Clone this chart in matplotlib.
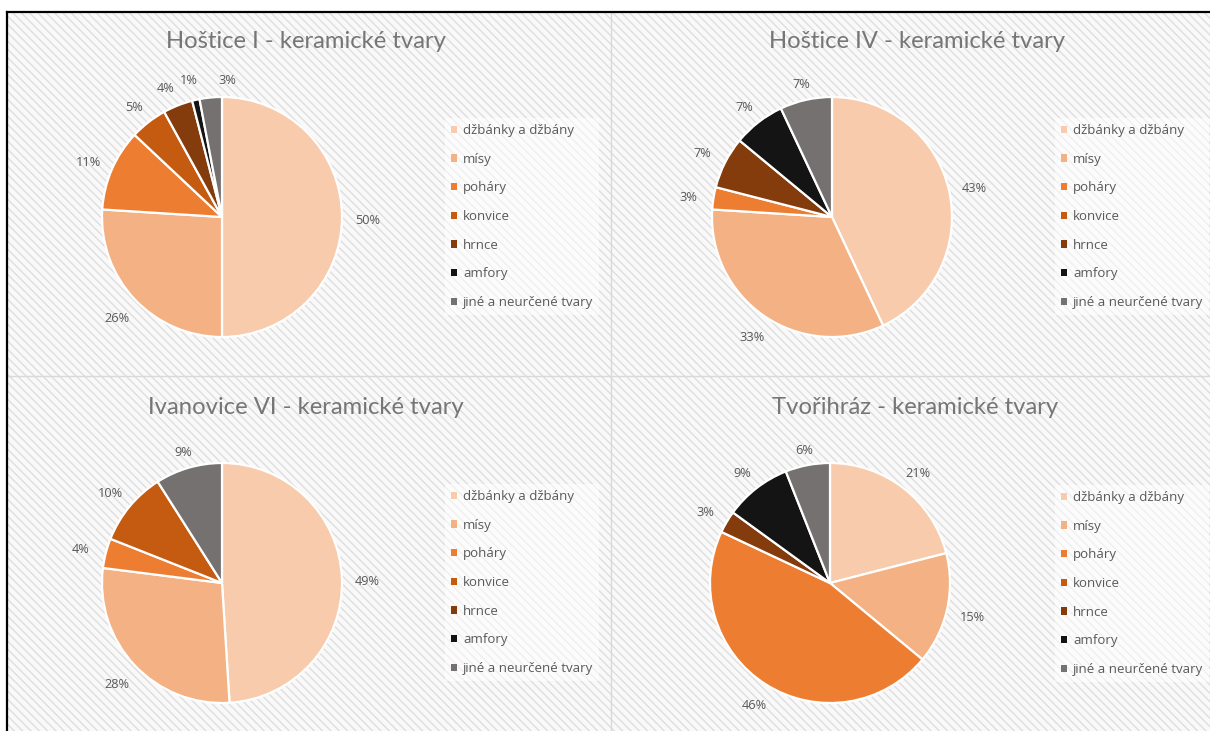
import numpy as np
import matplotlib
matplotlib.use("Agg")
import matplotlib.pyplot as plt
from matplotlib.patches import Rectangle, Patch
from matplotlib.lines import Line2D

# --- data -------------------------------------------------------------
categories = ["džbánky a džbány", "mísy", "poháry", "konvice",
              "hrnce", "amfory", "jiné a neurčené tvary"]
colors = ["#F8CBAD", "#F4B183", "#ED7D31", "#C55A11",
          "#843C0C", "#141414", "#767171"]

titles = ["Hoštice I - keramické tvary", "Hoštice IV - keramické tvary",
          "Ivanovice VI - keramické tvary", "Tvořihráz - keramické tvary"]

hostice_1 = [50, 26, 11, 5, 4, 1, 3]
hostice_4 = [43, 33, 3, 0, 7, 7, 7]
ivanovice_6 = [49, 28, 4, 10, 0, 0, 9]
tvorihraz = [21, 15, 46, 0, 3, 9, 6]
series = [hostice_1, hostice_4, ivanovice_6, tvorihraz]

# --- figure -----------------------------------------------------------
W, H = 1210, 731
plt.rcParams["font.family"] = ["Open Sans", "DejaVu Sans"]
plt.rcParams["hatch.linewidth"] = 1.0
plt.rcParams["hatch.color"] = "#dedede"
fig = plt.figure(figsize=(W / 100, H / 100), dpi=100, facecolor="white")


def fx(x):
    return x / W


def fy(y):
    return 1 - y / H


# hatched sheet background with a black frame on the left and top
bg = Rectangle((fx(7), 0), 1 - fx(7), fy(12), transform=fig.transFigure,
               facecolor="#f9f9f9", edgecolor="#dedede", hatch="\\\\\\\\",
               linewidth=0, zorder=-10)
fig.add_artist(bg)
for xs, ys, c, lw in [([fx(611), fx(611)], [0, fy(12)], "#d9d9d9", 1.0),
                      ([fx(7), 1], [fy(376), fy(376)], "#d9d9d9", 1.0),
                      ([fx(7), 1], [fy(12), fy(12)], "black", 1.6),
                      ([fx(7), fx(7)], [0, fy(12)], "black", 1.6)]:
    fig.add_artist(Line2D(xs, ys, color=c, lw=lw, transform=fig.transFigure,
                          zorder=-5))

# panel geometry in pixels
pie_centers = [(222, 217), (832, 217), (222, 583), (830, 583)]
title_pos = [(306, 42), (917, 42), (306, 408), (915, 408)]
legend_pos = [(445, 118), (1055, 118), (445, 484), (1055, 485)]
R = 120

# small pixel nudges for crowded percentage labels (panel, slice) -> (dx, dy)
label_nudge = {(0, 4): (-5, -1), (0, 5): (-3, -4), (0, 6): (18, -3)}

for k, (vals, title, (cx, cy), (tx, ty), (lx, ly)) in enumerate(zip(
        series, titles, pie_centers, title_pos, legend_pos)):
    fig.text(fx(tx), fy(ty), title, ha="center", va="center",
             fontsize=17.2, color="#767676", family=["Lato", "DejaVu Sans"],
             zorder=3)

    ax = fig.add_axes([fx(cx - R), fy(cy + R), 2 * R / W, 2 * R / H],
                      zorder=2)
    ax.axis("off")

    idx_nz = [i for i, v in enumerate(vals) if v > 0]
    vals_nz = [vals[i] for i in idx_nz]
    cols_nz = [colors[i] for i in idx_nz]
    ax.pie(vals_nz, colors=cols_nz, startangle=90, counterclock=False,
           radius=1.0, wedgeprops=dict(edgecolor="white", linewidth=1.6))
    ax.set_xlim(-1, 1)
    ax.set_ylim(-1, 1)

    total = float(sum(vals_nz))
    cum = 0.0
    for i, v in zip(idx_nz, vals_nz):
        ang = np.deg2rad(360 * (cum + v / 2) / total)
        ux, uy = np.sin(ang), np.cos(ang)
        ext = 0.11 * abs(ux) + 0.03 * abs(uy)
        d = 1 + 0.1 + ext
        ndx, ndy = label_nudge.get((k, i), (0, 0))
        ax.text(d * ux + ndx / R, d * uy - 0.025 - ndy / R, f"{v}%",
                ha="center", va="center",
                fontsize=9.2, color="#595959", clip_on=False)
        cum += v

    handles = [Patch(facecolor=c, edgecolor="none") for c in colors]
    leg = fig.legend(handles, categories, loc="upper left",
                     bbox_to_anchor=(fx(lx), fy(ly)), frameon=True,
                     facecolor="white", framealpha=0.55, edgecolor="none",
                     fancybox=False, fontsize=9.5, labelcolor="#595959",
                     handlelength=0.48, handleheight=0.48, handletextpad=0.45,
                     labelspacing=1.19, borderpad=0.45, borderaxespad=0)
    leg.set_zorder(3)

fig.savefig("out.png", dpi=100, facecolor="white")
